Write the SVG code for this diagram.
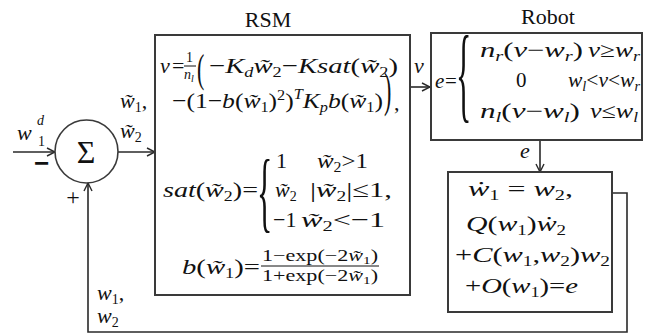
<svg xmlns="http://www.w3.org/2000/svg" width="649" height="336" viewBox="0 0 649 336">
<defs>
<style>
.box{fill:#fff;stroke:#3a3a3a;stroke-width:2}
.ln{fill:none;stroke:#2a2a2a;stroke-width:1.6}
text{font-family:"Liberation Serif","Times New Roman",Times,serif;fill:#111}
.m{font-size:22px}
.i{font-style:italic}
.s{font-size:14px}
.t{font-size:21px}
</style>
<marker id="ah" viewBox="0 0 10 10" refX="9" refY="5" markerWidth="10" markerHeight="10" markerUnits="userSpaceOnUse" orient="auto">
<path d="M1,1 L9,5 L1,9" fill="none" stroke="#2a2a2a" stroke-width="1.4"/>
</marker>
</defs>
<rect width="649" height="336" fill="#fff"/>

<g id="connectors">
<line class="ln" x1="13" y1="152" x2="55" y2="152" marker-end="url(#ah)"/>
<line class="ln" x1="118" y1="152" x2="155" y2="152" marker-end="url(#ah)"/>
<line class="ln" x1="410" y1="87" x2="430" y2="87" marker-end="url(#ah)"/>
<line class="ln" x1="540" y1="140" x2="540" y2="172" marker-end="url(#ah)"/>
<polyline class="ln" points="612,193 627,193 627,332 88,332 88,183" marker-end="url(#ah)"/>
</g>

<g id="labels">
<text class="m i" x="17" y="140">w</text>
<text class="s i" x="37" y="125">d</text>
<text class="s" x="38" y="146">1</text>
<text x="41.5" y="172" style="font-family:'Liberation Sans',sans-serif;font-size:26px;font-weight:bold" text-anchor="middle">−</text>
<text x="73" y="205" text-anchor="middle" style="font-size:24px">+</text>
<text class="m" x="120" y="108"><tspan class="i">w̃</tspan><tspan class="s" dy="4">1</tspan><tspan dy="-4">,</tspan></text>
<text class="m" x="120" y="138"><tspan class="i">w̃</tspan><tspan class="s" dy="4">2</tspan></text>
<text class="m" x="97" y="300"><tspan class="i">w</tspan><tspan class="s" dy="4">1</tspan><tspan dy="-4">,</tspan></text>
<text class="m" x="97" y="323"><tspan class="i">w</tspan><tspan class="s" dy="4">2</tspan></text>
<text class="m i" x="414" y="73">v</text>
<text class="m i" x="520" y="158">e</text>
<text class="m" x="268" y="27" text-anchor="middle">RSM</text>
<text class="m" x="548" y="24" text-anchor="middle">Robot</text>
</g>

<g id="sum">
<circle cx="86.5" cy="151.5" r="31.5" fill="#fff" stroke="#3a3a3a" stroke-width="1.6"/>
<text x="86" y="163" text-anchor="middle" style="font-size:32px">Σ</text>
</g>

<g id="rsm">
<rect class="box" x="155" y="35" width="255" height="260"/>
<text class="m i" x="160" y="73">v</text>
<text class="m" x="172" y="73">=</text>
<text class="s" x="186" y="62">1</text>
<line x1="184" y1="66" x2="196" y2="66" stroke="#111" stroke-width="1"/>
<text class="s i" x="184" y="79">n<tspan style="font-size:10px" dy="3">l</tspan></text>
<text transform="translate(197,82) scale(1,1.83)" style="font-size:22px">(</text>
<text class="m" x="209" y="73" textLength="189" lengthAdjust="spacingAndGlyphs">−<tspan class="i">K</tspan><tspan class="s i" dy="4">d</tspan><tspan class="i" dy="-4">w̃</tspan><tspan class="s" dy="4">2</tspan><tspan dy="-4">−</tspan><tspan class="i">Ksat</tspan>(<tspan class="i">w̃</tspan><tspan class="s" dy="4">2</tspan><tspan dy="-4">)</tspan></text>
<text class="m" x="172" y="108" textLength="211" lengthAdjust="spacingAndGlyphs">−(1−<tspan class="i">b</tspan>(<tspan class="i">w̃</tspan><tspan class="s" dy="4">1</tspan><tspan dy="-4">)</tspan><tspan class="s" dy="-8">2</tspan><tspan dy="8">)</tspan><tspan class="s i" dy="-9">T</tspan><tspan class="i" dy="9">K</tspan><tspan class="s i" dy="4">p</tspan><tspan class="i" dy="-4">b</tspan>(<tspan class="i">w̃</tspan><tspan class="s" dy="4">1</tspan><tspan dy="-4">)</tspan></text>
<text transform="translate(384,106) scale(1,2.25)" style="font-size:22px">)</text>
<text class="m" x="394" y="110">,</text>

<text class="m" x="163" y="197" textLength="95" lengthAdjust="spacingAndGlyphs"><tspan class="i">sat</tspan>(<tspan class="i">w̃</tspan><tspan class="s" dy="4">2</tspan><tspan dy="-4">)=</tspan></text>
<text transform="translate(257,221) scale(1,2.8)" style="font-size:32px">{</text>
<text class="m" x="276" y="168">1</text>
<text class="m" x="317" y="168" textLength="51" lengthAdjust="spacingAndGlyphs"><tspan class="i">w̃</tspan><tspan class="s" dy="4">2</tspan><tspan dy="-4">&gt;1</tspan></text>
<text class="m" x="275" y="197"><tspan class="i">w̃</tspan><tspan class="s" dy="4">2</tspan></text>
<text class="m" x="310" y="197" textLength="82" lengthAdjust="spacingAndGlyphs">|<tspan class="i">w̃</tspan><tspan class="s" dy="4">2</tspan><tspan dy="-4">|≤1,</tspan></text>
<text class="m" x="273" y="227">−1</text>
<text class="m" x="301" y="227" textLength="84" lengthAdjust="spacingAndGlyphs"><tspan class="i">w̃</tspan><tspan class="s" dy="4">2</tspan><tspan dy="-4">&lt;−1</tspan></text>

<text class="m" x="182" y="274" textLength="78" lengthAdjust="spacingAndGlyphs"><tspan class="i">b</tspan>(<tspan class="i">w̃</tspan><tspan class="s" dy="4">1</tspan><tspan dy="-4">)=</tspan></text>
<text x="262" y="261" style="font-size:16px" textLength="116" lengthAdjust="spacingAndGlyphs">1−exp(−2<tspan class="i">w̃</tspan><tspan style="font-size:11px" dy="3">1</tspan><tspan dy="-3">)</tspan></text>
<line x1="261" y1="266" x2="379" y2="266" stroke="#111" stroke-width="1"/>
<text x="262" y="281" style="font-size:16px" textLength="116" lengthAdjust="spacingAndGlyphs">1+exp(−2<tspan class="i">w̃</tspan><tspan style="font-size:11px" dy="3">1</tspan><tspan dy="-3">)</tspan></text>
</g>

<g id="robot">
<rect class="box" x="431" y="33" width="211" height="107"/>
<text class="t i" x="435" y="88">e</text>
<text class="t" x="445" y="88">=</text>
<text transform="translate(456,109) scale(1,3.3)" style="font-size:32px">{</text>
<text class="t" x="480" y="57" textLength="103" lengthAdjust="spacingAndGlyphs"><tspan class="i">n</tspan><tspan class="s i" dy="4">r</tspan><tspan dy="-4">(</tspan><tspan class="i">v</tspan>−<tspan class="i">w</tspan><tspan class="s i" dy="4">r</tspan><tspan dy="-4">)</tspan></text>
<text class="t" x="588" y="57" textLength="52" lengthAdjust="spacingAndGlyphs"><tspan class="i">v</tspan>≥<tspan class="i">w</tspan><tspan class="s i" dy="4">r</tspan></text>
<text class="t" x="516" y="87">0</text>
<text class="t" x="568" y="87" textLength="72" lengthAdjust="spacingAndGlyphs"><tspan class="i">w</tspan><tspan class="s i" dy="4">l</tspan><tspan dy="-4">&lt;</tspan><tspan class="i">v</tspan>&lt;<tspan class="i">w</tspan><tspan class="s i" dy="4">r</tspan></text>
<text class="t" x="480" y="118" textLength="100" lengthAdjust="spacingAndGlyphs"><tspan class="i">n</tspan><tspan class="s i" dy="4">l</tspan><tspan dy="-4">(</tspan><tspan class="i">v</tspan>−<tspan class="i">w</tspan><tspan class="s i" dy="4">l</tspan><tspan dy="-4">)</tspan></text>
<text class="t" x="590" y="118" textLength="48" lengthAdjust="spacingAndGlyphs"><tspan class="i">v</tspan>≤<tspan class="i">w</tspan><tspan class="s i" dy="4">l</tspan></text>
</g>

<g id="dynamics">
<rect class="box" x="448" y="172" width="164" height="140"/>
<text class="m" x="468" y="196" textLength="105" lengthAdjust="spacingAndGlyphs"><tspan class="i">ẇ</tspan><tspan class="s" dy="4">1</tspan><tspan dy="-4"> = </tspan><tspan class="i">w</tspan><tspan class="s" dy="4">2</tspan><tspan dy="-4">,</tspan></text>
<text class="m" x="466" y="231" textLength="100" lengthAdjust="spacingAndGlyphs"><tspan class="i">Q</tspan>(<tspan class="i">w</tspan><tspan class="s" dy="4">1</tspan><tspan dy="-4">)</tspan><tspan class="i">ẇ</tspan><tspan class="s" dy="4">2</tspan></text>
<text class="m" x="455" y="262" textLength="155" lengthAdjust="spacingAndGlyphs">+<tspan class="i">C</tspan>(<tspan class="i">w</tspan><tspan class="s" dy="4">1</tspan><tspan dy="-4">,</tspan><tspan class="i">w</tspan><tspan class="s" dy="4">2</tspan><tspan dy="-4">)</tspan><tspan class="i">w</tspan><tspan class="s" dy="4">2</tspan></text>
<text class="m" x="465" y="293" textLength="113" lengthAdjust="spacingAndGlyphs">+<tspan class="i">O</tspan>(<tspan class="i">w</tspan><tspan class="s" dy="4">1</tspan><tspan dy="-4">)=</tspan><tspan class="i">e</tspan></text>
</g>
</svg>
